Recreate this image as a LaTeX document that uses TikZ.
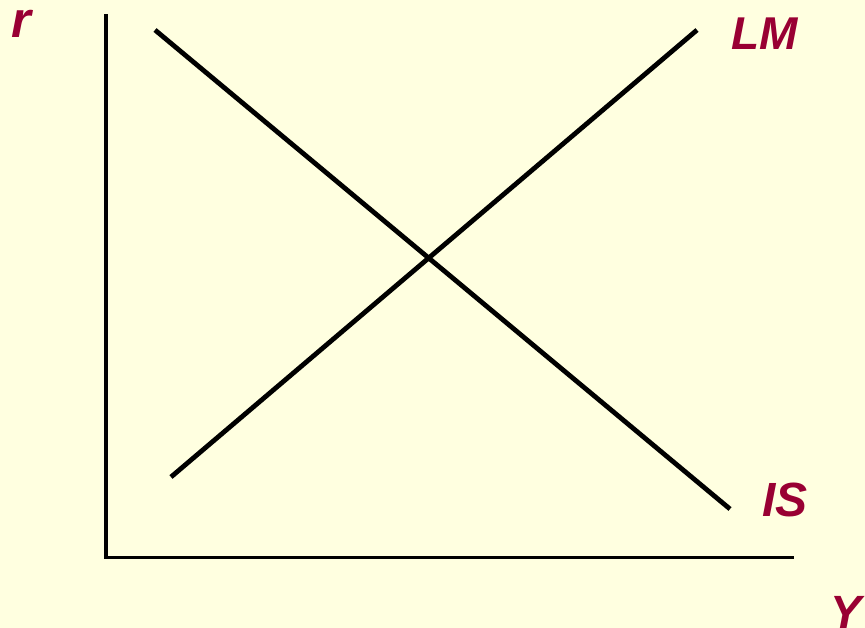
\documentclass[tikz,border=0pt]{standalone}
\usepackage{fontspec}
\setmainfont{Liberation Sans}
\definecolor{bgcol}{HTML}{FFFFE0}
\definecolor{labcol}{HTML}{990033}
\begin{document}
\begin{tikzpicture}[x=0.75pt,y=-0.75pt,
  axis/.style={line width=2.7pt},
  curve/.style={line width=3.6pt},
  lab/.style={text=labcol,inner sep=0pt,anchor=base west,font=\bfseries\itshape}]
\fill[bgcol] (0,0) rectangle (865,628);
\useasboundingbox (0,0) rectangle (865,628);
\coordinate (top) at (106,14);
\coordinate (origin) at (106,557.5);
\coordinate (right) at (794,557.5);
\coordinate (lmA) at (171,477);
\coordinate (lmB) at (697,30);
\coordinate (isA) at (155,30);
\coordinate (isB) at (730,509);
\draw[axis] (top) -- (origin) -- (right);
\draw[curve] (lmA) -- (lmB);
\draw[curve] (isA) -- (isB);
\node[lab,font=\fontsize{38}{40}\selectfont\bfseries\itshape] (r) at (11,37) {r};
\node[lab,font=\fontsize{34.5}{36}\selectfont\bfseries\itshape] (LM) at (731,49) {LM};
\node[lab,font=\fontsize{36}{38}\selectfont\bfseries\itshape] (IS) at (762,516) {IS};
\node[lab,font=\fontsize{35}{36}\selectfont\bfseries\itshape] (Y) at (830,628) {Y};
\end{tikzpicture}
\end{document}
